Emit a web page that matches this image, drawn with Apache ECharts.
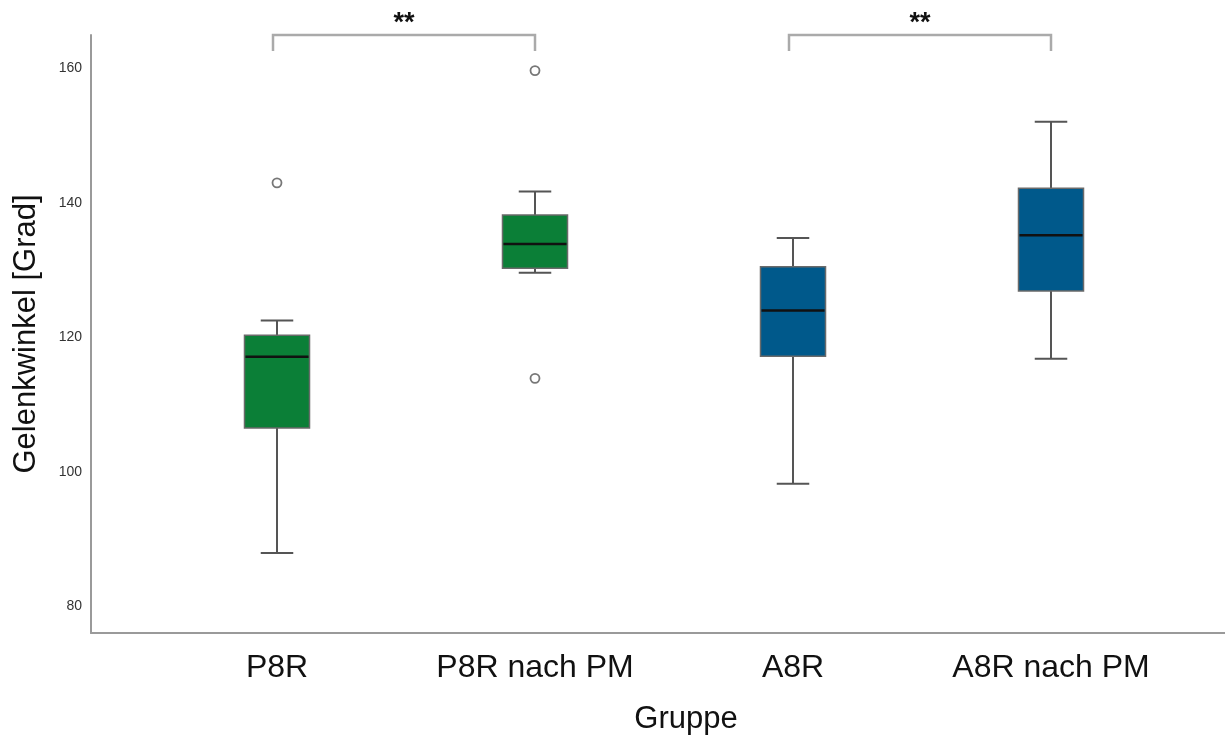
<!DOCTYPE html>
<html>
<head>
<meta charset="utf-8">
<title>Gelenkwinkel nach Gruppe</title>
<script src="https://cdn.jsdelivr.net/npm/echarts@6/dist/echarts.min.js"></script>
<style>
  html, body { margin: 0; padding: 0; background: #ffffff; }
  #chart { width: 1225px; height: 736px; }
</style>
</head>
<body>
<div id="chart"></div>
<script>
// Groups on the x axis
const categories = ['P8R', 'P8R nach PM', 'A8R', 'A8R nach PM'];

// Box statistics per group (degrees)
const whiskerLow  = [87.9, 129.6, 98.2, 116.8];
const quartile1   = [106.5, 130.3, 117.2, 126.9];
const medians     = [117.1, 133.9, 124.0, 135.2];
const quartile3   = [120.3, 138.2, 130.5, 142.2];
const whiskerHigh = [122.5, 141.7, 134.8, 152.1];

// Outliers: [group index, value]
const outliers = [[0, 143.0], [1, 159.7], [1, 113.9]];

// Significance brackets: [from group, to group]
const brackets = [[0, 1], [2, 3]];
const bracketLabels = ['**', '**'];

// Y axis tick labels
const yTicks = [80, 100, 120, 140, 160];

const boxFill = ['#0b7f37', '#0b7f37', '#00598b', '#00598b'];
const FONT = '"Liberation Sans", Arial, sans-serif';

const boxData = categories.map((c, i) => [i, whiskerLow[i], quartile1[i], medians[i], quartile3[i], whiskerHigh[i]]);

// Box, whiskers with short caps, and a dark median line
function renderBox(params, api) {
  const idx = api.value(0);
  const lo = api.coord([idx, api.value(1)]);
  const q1 = api.coord([idx, api.value(2)]);
  const md = api.coord([idx, api.value(3)]);
  const q3 = api.coord([idx, api.value(4)]);
  const hi = api.coord([idx, api.value(5)]);
  const band = api.size([1, 0])[0];
  const w = band * 0.252;
  const cap = w / 2;
  const cx = lo[0];
  const whisk = { stroke: '#555555', lineWidth: 2 };
  return {
    type: 'group',
    children: [
      { type: 'line', shape: { x1: cx, y1: lo[1], x2: cx, y2: q1[1] }, style: whisk },
      { type: 'line', shape: { x1: cx, y1: q3[1], x2: cx, y2: hi[1] }, style: whisk },
      { type: 'line', shape: { x1: cx - cap / 2, y1: lo[1], x2: cx + cap / 2, y2: lo[1] }, style: whisk },
      { type: 'line', shape: { x1: cx - cap / 2, y1: hi[1], x2: cx + cap / 2, y2: hi[1] }, style: whisk },
      {
        type: 'rect',
        shape: { x: cx - w / 2, y: q3[1], width: w, height: q1[1] - q3[1] },
        style: { fill: boxFill[idx], stroke: '#6a6a6a', lineWidth: 1.5 }
      },
      { type: 'line', shape: { x1: cx - w / 2 + 1, y1: md[1], x2: cx + w / 2 - 1, y2: md[1] }, style: { stroke: '#111111', lineWidth: 2.5 } }
    ]
  };
}

// Significance bracket between two groups, label above it
function renderBracket(params, api) {
  const a = api.coord([api.value(0), 0])[0];
  const b = api.coord([api.value(1), 0])[0];
  const top = params.coordSys.y;
  const st = { stroke: '#aaaaaa', lineWidth: 2.5 };
  return {
    type: 'group',
    children: [
      { type: 'polyline', shape: { points: [[a - 4, top + 16], [a - 4, top], [b, top], [b, top + 16]] }, style: Object.assign({ fill: null }, st) },
      {
        type: 'text',
        style: {
          text: bracketLabels[params.dataIndex], x: (a + b) / 2 - 2, y: top + 2,
          fill: '#111111', font: 'bold 27px ' + FONT, align: 'center', verticalAlign: 'bottom'
        }
      }
    ]
  };
}

const chart = echarts.init(document.getElementById('chart'), null, { renderer: 'canvas' });

chart.setOption({
  animation: false,
  backgroundColor: '#ffffff',
  grid: [
    { left: 148, right: 45, top: 35, bottom: 103 },
    { left: 91, right: 0, top: 35, bottom: 103 }
  ],
  xAxis: [
    {
      type: 'category', gridIndex: 0, data: categories,
      axisLine: { show: false }, axisTick: { show: false },
      axisLabel: { color: '#111111', fontSize: 32, fontFamily: FONT, margin: 19 }
    },
    {
      type: 'value', gridIndex: 1, min: 0, max: 1,
      axisLine: { show: true, lineStyle: { color: '#9a9a9a', width: 2 } },
      axisTick: { show: false }, axisLabel: { show: false }, splitLine: { show: false }
    }
  ],
  yAxis: [
    {
      type: 'value', gridIndex: 0, min: 76, max: 165, interval: 4, offset: 57,
      name: 'Gelenkwinkel [Grad]', nameLocation: 'middle', nameGap: 49,
      nameTextStyle: { color: '#111111', fontSize: 31, fontFamily: FONT },
      axisLine: { show: true, lineStyle: { color: '#9a9a9a', width: 2 } },
      axisTick: { show: false }, splitLine: { show: false },
      axisLabel: {
        color: '#333333', fontSize: 14, fontFamily: FONT, margin: 9,
        showMinLabel: true, showMaxLabel: true,
        formatter: v => (yTicks.indexOf(v) >= 0 ? String(v) : '')
      }
    },
    { type: 'value', gridIndex: 1, show: false, min: 0, max: 1 }
  ],
  graphic: [
    {
      type: 'text', x: 686, y: 719,
      style: { text: 'Gruppe', fill: '#111111', font: '31px ' + FONT, align: 'center', verticalAlign: 'middle' }
    }
  ],
  series: [
    {
      type: 'custom', name: 'Gelenkwinkel', xAxisIndex: 0, yAxisIndex: 0,
      renderItem: renderBox, data: boxData,
      encode: { x: 0, y: [1, 2, 3, 4, 5] }
    },
    {
      type: 'scatter', xAxisIndex: 0, yAxisIndex: 0, data: outliers,
      symbol: 'circle', symbolSize: 9,
      itemStyle: { color: '#ffffff', borderColor: '#555555', borderWidth: 1.8 }
    },
    {
      type: 'custom', xAxisIndex: 0, yAxisIndex: 0, clip: false,
      renderItem: renderBracket, data: brackets
    }
  ]
});
</script>
</body>
</html>
